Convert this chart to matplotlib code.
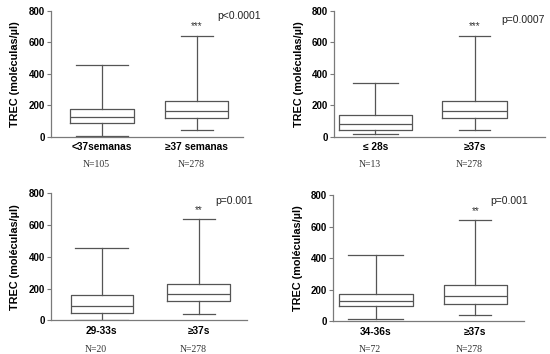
import matplotlib
import numpy as np
from matplotlib import pyplot as plt
from matplotlib import transforms

# Box statistics: (whislo, q1, med, q3, whishi)
p1_labels = ["<37semanas", "\u226537 semanas"]
p1_stats = [(2, 85, 123, 174, 456), (42, 121, 165, 226, 642)]
p1_n = ["N=105", "N=278"]
p1_p = "p<0.0001"
p1_star = "***"

p2_labels = ["\u2264 28s", "\u226537s"]
p2_stats = [(19, 40, 82, 135, 343), (42, 121, 165, 226, 642)]
p2_n = ["N=13", "N=278"]
p2_p = "p=0.0007"
p2_star = "***"

p3_labels = ["29-33s", "\u226537s"]
p3_stats = [(2, 46, 92, 161, 456), (42, 119, 163, 228, 638)]
p3_n = ["N=20", "N=278"]
p3_p = "p=0.001"
p3_star = "**"

p4_labels = ["34-36s", "\u226537s"]
p4_stats = [(17, 95, 129, 176, 421), (42, 112, 159, 229, 644)]
p4_n = ["N=72", "N=278"]
p4_p = "p=0.001"
p4_star = "**"

SANS = ["Liberation Sans", "DejaVu Sans"]
SERIF = ["Liberation Serif", "DejaVu Serif"]
plt.rcParams["font.family"] = SANS

box_col = "#555555"
spine_col = "#7a7a7a"

fig = plt.figure(figsize=(5.5, 3.54), dpi=100)

panels = [
    # rect, xlim, box widths, cap widths, stats, labels, N, p, p position, star
    ([0.092, 0.614, 0.350, 0.356], (0.46, 2.49), [0.67, 0.67], [0.55, 0.34],
     p1_stats, p1_labels, p1_n, p1_p, (1.09, 0.955), p1_star),
    ([0.607, 0.614, 0.384, 0.356], (0.58, 2.71), [0.74, 0.65], [0.45, 0.31],
     p2_stats, p2_labels, p2_n, p2_p, (1.0, 0.925), p2_star),
    ([0.092, 0.095, 0.357, 0.360], (0.47, 2.50), [0.64, 0.65], [0.55, 0.33],
     p3_stats, p3_labels, p3_n, p3_p, (1.03, 0.937), p3_star),
    ([0.605, 0.092, 0.348, 0.356], (0.57, 2.49), [0.74, 0.63], [0.55, 0.32],
     p4_stats, p4_labels, p4_n, p4_p, (1.02, 0.955), p4_star),
]

for rect, xlim, widths, caps, stats, labels, ns, ptxt, ppos, star in panels:
    ax = fig.add_axes(rect)
    bstats = []
    for (lo, q1, med, q3, hi), lab in zip(stats, labels):
        bstats.append({"whislo": lo, "q1": q1, "med": med, "q3": q3,
                       "whishi": hi, "fliers": [], "label": lab})
    lw = 0.9
    ax.bxp(bstats, positions=[1, 2], widths=widths, capwidths=caps,
           showfliers=False,
           boxprops=dict(color=box_col, linewidth=lw),
           whiskerprops=dict(color=box_col, linewidth=lw),
           capprops=dict(color=box_col, linewidth=lw),
           medianprops=dict(color=box_col, linewidth=lw))
    ax.set_xlim(*xlim)
    ax.set_ylim(0, 800)
    ax.set_yticks([0, 200, 400, 600, 800])
    ax.spines["top"].set_visible(False)
    ax.spines["right"].set_visible(False)
    for s in ("left", "bottom"):
        ax.spines[s].set_color(spine_col)
        ax.spines[s].set_linewidth(0.9)
    ax.tick_params(axis="y", length=3, width=0.8, color=spine_col, pad=1,
                   labelsize=7)
    ax.tick_params(axis="x", length=0, pad=4, labelsize=7.3)
    for t in ax.get_xticklabels() + ax.get_yticklabels():
        t.set_fontweight("bold")
    ax.set_ylabel("TREC (mol\u00e9culas/\u00b5l)", fontsize=7.8,
                  fontweight="bold", labelpad=6)

    trans = transforms.blended_transform_factory(ax.transData, ax.transAxes)
    for x, n in zip([1, 2], ns):
        ax.text(x - 0.06, -0.225, n, transform=trans, ha="center",
                va="center", fontsize=7, family=SERIF, color="#333333")
    ax.text(2, stats[1][4] + 25, star, ha="center", va="bottom",
            fontsize=7, color="#333333")
    ax.text(ppos[0], ppos[1], ptxt, transform=ax.transAxes, ha="right",
            va="center", fontsize=7.5, color="#222222")

plt.savefig("out.png", dpi=100)
